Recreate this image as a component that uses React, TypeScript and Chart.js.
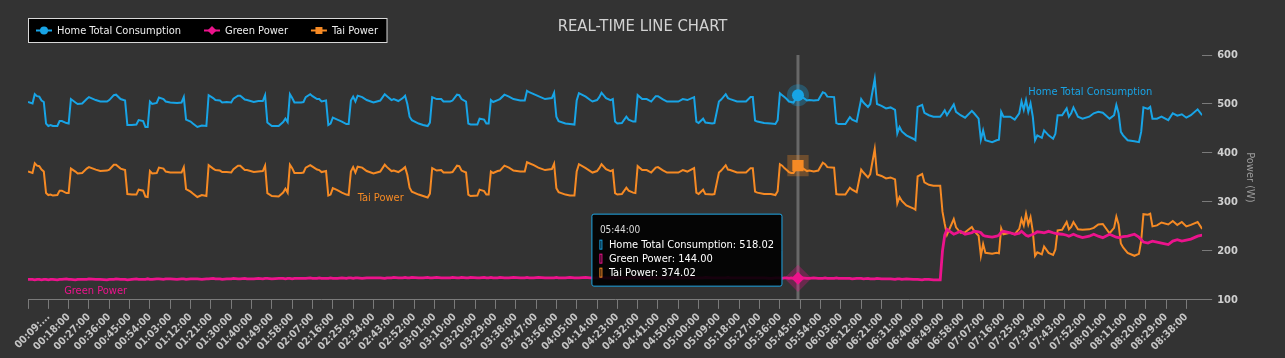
import React, { useEffect, useRef } from "react";
import { Chart, registerables, Tooltip } from "chart.js";

Chart.register(...registerables);

const FONT = "'DejaVu Sans Condensed', 'DejaVu Sans', sans-serif";

const chartTitle = "REAL-TIME LINE CHART";
const yAxisTitle = "Power (W)";
const seriesNames = ["Home Total Consumption", "Green Power", "Tai Power"];
const seriesColors = ["#18a4e6", "#ec138c", "#f68a24"];
const seriesHalo = ["rgba(24,164,230,0.3)", "rgba(236,19,140,0.3)", "rgba(246,138,36,0.3)"];
const seriesMarkers = ["circle", "rectRot", "rect"];
const seriesLineWidths = [2, 2.8, 2];

// tick labels on the time axis (one every 9 samples)
const xTickLabels = [
  "", "00:09:...", "00:18:00", "00:27:00", "00:36:00", "00:45:00", "00:54:00", "01:03:00", "01:12:00", "01:21:00",
  "01:30:00", "01:40:00", "01:49:00", "01:58:00", "02:07:00", "02:16:00", "02:25:00", "02:34:00", "02:43:00", "02:52:00",
  "03:01:00", "03:10:00", "03:20:00", "03:29:00", "03:38:00", "03:47:00", "03:56:00", "04:05:00", "04:14:00", "04:23:00",
  "04:32:00", "04:41:00", "04:50:00", "05:00:00", "05:09:00", "05:18:00", "05:27:00", "05:36:00", "05:45:00", "05:54:00",
  "06:03:00", "06:12:00", "06:21:00", "06:31:00", "06:40:00", "06:49:00", "06:58:00", "07:07:00", "07:16:00", "07:25:00",
  "07:34:00", "07:43:00", "07:52:00", "08:01:00", "08:11:00", "08:20:00", "08:29:00", "08:38:00",
];
const tickStep = 9;
const lastSample = 520;

// sample index (≈ minutes since start) of each reading
const sampleIndex = [
  0, 2, 3, 4, 5, 6, 7, 8, 9, 10,
  11, 13, 14, 15, 17, 18, 19, 21, 22, 24,
  26, 27, 30, 32, 35, 36, 38, 39, 41, 43,
  44, 46, 48, 49, 51, 52, 53, 54, 55, 57,
  58, 60, 61, 63, 66, 68, 69, 70, 72, 73,
  75, 77, 79, 80, 82, 83, 85, 86, 88, 90,
  91, 93, 94, 96, 97, 100, 102, 104, 105, 106,
  108, 111, 113, 114, 115, 116, 117, 118, 121, 122,
  123, 125, 126, 128, 129, 130, 132, 133, 134, 135,
  137, 139, 141, 142, 143, 144, 145, 146, 148, 150,
  153, 156, 158, 159, 161, 162, 164, 166, 167, 168,
  169, 170, 173, 175, 177, 178, 179, 181, 183, 184,
  187, 188, 190, 191, 192, 194, 195, 196, 199, 200,
  202, 203, 204, 205, 206, 208, 209, 211, 213, 215,
  218, 220, 221, 222, 224, 226, 229, 232, 233, 234,
  235, 238, 240, 242, 243, 244, 247, 249, 250, 252,
  253, 254, 256, 258, 259, 260, 261, 263, 265, 266,
  268, 269, 270, 272, 274, 276, 278, 279, 281, 283,
  288, 290, 292, 295, 296, 297, 299, 300, 303, 304,
  306, 307, 309, 310, 311, 314, 318, 320, 321, 322,
  323, 326, 329, 331, 332, 333, 334, 335, 336, 337,
  338, 339, 341, 343, 345, 346, 348, 350, 352, 353,
  354, 357, 358, 359, 362, 364, 365, 367, 369, 370,
  372, 373, 375, 376, 378, 380, 382, 384, 385, 386,
  387, 389, 392, 393, 394, 396, 397, 399, 401, 404,
  405, 406, 407, 410, 411, 413, 415, 418, 419, 421,
  422, 423, 424, 427, 429, 430, 431, 432, 435, 437,
  439, 440, 441, 442, 443, 444, 445, 446, 447, 449,
  450, 452, 454, 455, 456, 458, 460, 461, 462, 463,
  465, 467, 470, 472, 474, 476, 479, 481, 482, 483,
  484, 485, 487, 490, 492, 493, 494, 496, 497, 498,
  500, 502, 505, 507, 509, 511, 513, 515, 518, 520,
];

const homeTotal = [
  504, 501, 520, 516, 515, 507, 504, 460, 455, 457,
  455, 455, 465, 465, 461, 460, 510, 503, 500, 501,
  510, 514, 508, 505, 505, 508, 518, 519, 510, 507,
  457, 457, 458, 467, 465, 453, 453, 505, 500, 502,
  513, 510, 505, 503, 502, 503, 514, 468, 464, 460,
  453, 456, 455, 518, 512, 508, 507, 503, 504, 503,
  511, 517, 517, 509, 508, 504, 506, 506, 518, 462,
  455, 455, 463, 470, 463, 520, 512, 503, 503, 504,
  514, 520, 516, 510, 510, 505, 507, 457, 460, 472,
  468, 464, 459, 459, 507, 515, 505, 517, 514, 508,
  503, 507, 520, 516, 508, 510, 506, 512, 517, 500,
  474, 467, 460, 457, 455, 462, 514, 510, 510, 505,
  505, 507, 519, 518, 510, 505, 460, 458, 458, 470,
  468, 460, 460, 508, 504, 508, 510, 519, 515, 510,
  507, 507, 527, 524, 520, 516, 510, 512, 523, 474,
  465, 460, 459, 458, 507, 522, 515, 508, 505, 508,
  514, 523, 512, 508, 510, 464, 460, 461, 474, 468,
  464, 464, 518, 510, 510, 505, 516, 516, 510, 505,
  505, 510, 508, 514, 464, 461, 470, 462, 460, 461,
  505, 509, 520, 512, 510, 505, 505, 514, 514, 466,
  464, 461, 460, 459, 467, 522, 518, 514, 510, 505,
  504, 503, 518.02, 514, 507, 508, 507, 508, 524, 522,
  515, 514, 461, 459, 459, 473, 468, 464, 510, 503,
  494, 500, 551, 500, 496, 491, 493, 488, 440, 453,
  444, 436, 429, 426, 494, 498, 482, 477, 474, 474,
  480, 487, 477, 499, 484, 477, 472, 486, 481, 470,
  427, 446, 426, 422, 426, 427, 484, 474, 474, 468,
  481, 505, 488, 508, 484, 501, 474, 426, 436, 431,
  446, 436, 429, 439, 477, 477, 491, 474, 481, 493,
  474, 470, 474, 481, 484, 482, 470, 477, 498, 481,
  443, 436, 426, 424, 422, 443, 493, 490, 494, 470,
  470, 474, 467, 481, 476, 479, 472, 477, 489, 477,
];

const greenPower = [
  142, 142, 141, 142, 142, 141, 142, 142, 141, 142,
  142, 141, 142, 142, 143, 142, 142, 141, 142, 142,
  142, 143, 142, 142, 141, 142, 142, 143, 142, 142,
  141, 142, 143, 142, 142, 142, 143, 142, 142, 143,
  143, 142, 143, 143, 142, 143, 143, 142, 143, 143,
  143, 142, 143, 143, 144, 143, 143, 142, 143, 143,
  144, 143, 143, 144, 143, 143, 144, 143, 144, 144,
  143, 144, 144, 143, 144, 144, 143, 144, 144, 144,
  144, 145, 144, 144, 145, 144, 144, 144, 145, 144,
  144, 145, 144, 145, 145, 144, 145, 145, 144, 145,
  145, 145, 144, 145, 145, 146, 145, 145, 146, 145,
  145, 146, 145, 145, 146, 145, 145, 146, 145, 145,
  145, 146, 145, 145, 146, 145, 145, 146, 145, 145,
  146, 145, 145, 146, 145, 145, 146, 145, 145, 146,
  145, 145, 146, 145, 145, 146, 145, 145, 145, 146,
  145, 145, 146, 145, 145, 145, 146, 145, 145, 145,
  145, 146, 145, 145, 145, 146, 145, 145, 145, 145,
  145, 146, 145, 145, 145, 145, 146, 145, 145, 145,
  145, 145, 146, 145, 145, 145, 145, 146, 145, 145,
  145, 145, 145, 146, 145, 145, 145, 145, 145, 145,
  145, 145, 144, 145, 145, 145, 144, 145, 145, 144,
  145, 144, 144, 145, 144, 144, 145, 144, 144, 145,
  144, 144, 145, 144, 144, 144, 143, 144, 144, 143,
  144, 143, 143, 144, 143, 143, 143, 142, 143, 143,
  142, 143, 142, 142, 142, 141, 142, 142, 141, 141,
  200, 232, 244, 234, 236, 240, 234, 237, 240, 239,
  237, 232, 230, 228, 230, 232, 238, 240, 237, 234,
  236, 240, 236, 232, 230, 232, 234, 236, 239, 238,
  237, 240, 237, 236, 235, 234, 232, 230, 232, 234,
  230, 227, 230, 234, 230, 227, 234, 230, 228, 227,
  228, 229, 230, 234, 228, 223, 218, 216, 218, 220,
  218, 216, 213, 220, 223, 220, 222, 224, 230, 232,
];

const taiPower = [
  362, 359, 379, 374, 373, 366, 362, 318, 314, 315,
  313, 314, 323, 323, 318, 318, 368, 362, 358, 359,
  368, 371, 366, 363, 364, 366, 376, 376, 368, 365,
  316, 315, 315, 325, 323, 311, 310, 363, 358, 359,
  370, 368, 362, 360, 360, 360, 371, 326, 321, 317,
  310, 314, 312, 375, 368, 365, 364, 361, 361, 360,
  367, 374, 374, 365, 365, 361, 362, 363, 374, 318,
  312, 311, 319, 327, 319, 376, 369, 359, 359, 360,
  370, 375, 372, 366, 365, 361, 363, 313, 315, 328,
  324, 319, 315, 314, 362, 371, 360, 372, 370, 363,
  358, 362, 376, 371, 363, 364, 361, 367, 371, 355,
  329, 321, 315, 312, 309, 317, 369, 364, 365, 360,
  360, 361, 374, 373, 364, 360, 315, 312, 313, 325,
  322, 315, 315, 362, 359, 363, 364, 374, 370, 364,
  362, 362, 381, 379, 375, 370, 365, 367, 378, 328,
  320, 315, 313, 313, 362, 377, 369, 363, 360, 363,
  369, 377, 367, 363, 365, 318, 315, 316, 329, 323,
  319, 318, 373, 365, 365, 360, 370, 371, 365, 360,
  360, 365, 362, 369, 319, 316, 325, 316, 315, 316,
  360, 364, 375, 366, 365, 360, 360, 369, 369, 321,
  319, 316, 316, 314, 322, 377, 374, 369, 365, 361,
  359, 359, 374.02, 369, 363, 364, 362, 364, 380, 377,
  371, 370, 316, 315, 315, 329, 325, 320, 366, 360,
  350, 357, 408, 356, 353, 348, 350, 346, 297, 310,
  302, 293, 287, 284, 352, 357, 340, 335, 333, 333,
  280, 255, 233, 265, 248, 237, 238, 249, 241, 231,
  190, 214, 196, 194, 196, 195, 246, 234, 237, 234,
  245, 265, 252, 276, 254, 269, 240, 190, 197, 193,
  209, 196, 192, 203, 242, 243, 259, 244, 249, 259,
  244, 243, 244, 247, 254, 255, 236, 247, 270, 254,
  215, 207, 196, 190, 194, 220, 275, 274, 276, 250,
  252, 258, 254, 261, 253, 259, 250, 253, 259, 245,
];

// snapshot state: the sample under the cursor
const hoverSample = 341;
const hoverTime = "05:44:00";

// where the in-chart series names sit, in data units (sample index, watts)
const seriesLabelAnchors = [
  { at: 443, value: 525 },
  { at: 16, value: 117 },
  { at: 146, value: 308 },
];

(Tooltip.positioners as any).hoverAnchor = function (items: any[]) {
  if (!items.length) return false;
  const ca = this.chart.chartArea;
  return { x: items[0].element.x, y: ca.top + (ca.bottom - ca.top) * 0.797 };
};

function drawMarker(ctx: CanvasRenderingContext2D, style: string, x: number, y: number, color: string) {
  ctx.fillStyle = color;
  ctx.beginPath();
  if (style === "circle") {
    ctx.arc(x, y, 4, 0, Math.PI * 2);
  } else if (style === "rectRot") {
    ctx.moveTo(x, y - 4.5);
    ctx.lineTo(x + 4.5, y);
    ctx.lineTo(x, y + 4.5);
    ctx.lineTo(x - 4.5, y);
    ctx.closePath();
  } else {
    ctx.rect(x - 3.5, y - 3.5, 7, 7);
  }
  ctx.fill();
}

const chromePlugin = {
  id: "chrome",
  beforeDraw(chart: any) {
    const ctx = chart.ctx;
    ctx.save();
    ctx.fillStyle = "#333333";
    ctx.fillRect(0, 0, chart.width, chart.height);
    ctx.restore();
  },
  beforeDatasetsDraw(chart: any) {
    const act = chart.tooltip && chart.tooltip.getActiveElements();
    if (!act || !act.length) return;
    const ctx = chart.ctx;
    const x = act[0].element.x;
    const { top, bottom } = chart.chartArea;
    ctx.save();
    ctx.strokeStyle = "rgba(140,140,140,0.6)";
    ctx.lineWidth = 3;
    ctx.beginPath();
    ctx.moveTo(x, top);
    ctx.lineTo(x, bottom);
    ctx.stroke();
    ctx.restore();
  },
  afterDatasetsDraw(chart: any) {
    const ctx = chart.ctx;
    const xs = chart.scales.x;
    const ys = chart.scales.y;
    ctx.save();
    ctx.font = `11px ${FONT}`;
    ctx.textAlign = "left";
    ctx.textBaseline = "middle";
    seriesLabelAnchors.forEach((a, i) => {
      ctx.fillStyle = seriesColors[i];
      ctx.fillText(seriesNames[i], xs.getPixelForValue(a.at), ys.getPixelForValue(a.value));
    });
    ctx.restore();
  },
  afterDraw(chart: any) {
    const ctx = chart.ctx;
    ctx.save();
    // title
    ctx.font = `16.5px ${FONT}`;
    ctx.fillStyle = "#d2d2d2";
    ctx.textAlign = "center";
    ctx.textBaseline = "middle";
    ctx.fillText(chartTitle, chart.width / 2, 27);
    // legend
    ctx.font = `11px ${FONT}`;
    const left = 28.5;
    const top = 18.5;
    const cy = 30.5;
    let x = 36;
    const items: { x: number; w: number }[] = [];
    seriesNames.forEach((n) => {
      const w = ctx.measureText(n).width;
      items.push({ x, w });
      x += 21 + w + 23;
    });
    const right = x - 23 + 9;
    ctx.fillStyle = "#000";
    ctx.fillRect(left, top, right - left, 24);
    ctx.strokeStyle = "#d8d8d8";
    ctx.lineWidth = 1;
    ctx.strokeRect(left, top, right - left, 24);
    ctx.textAlign = "left";
    items.forEach((it, i) => {
      ctx.strokeStyle = seriesColors[i];
      ctx.lineWidth = 2;
      ctx.beginPath();
      ctx.moveTo(it.x, cy);
      ctx.lineTo(it.x + 16, cy);
      ctx.stroke();
      drawMarker(ctx, seriesMarkers[i], it.x + 8, cy, seriesColors[i]);
      ctx.fillStyle = "#eeeeee";
      ctx.fillText(seriesNames[i], it.x + 21, cy + 0.5);
    });
    ctx.restore();
  },
};

export default function App() {
  const canvasRef = useRef<HTMLCanvasElement | null>(null);

  useEffect(() => {
    document.body.style.margin = "0";
    document.body.style.background = "#333333";
    const canvas = canvasRef.current;
    if (!canvas) return;

    const seriesValues = [homeTotal, greenPower, taiPower];
    const datasets = seriesValues.map((vals, i) => ({
      label: seriesNames[i],
      data: sampleIndex.map((s, k) => ({ x: s, y: vals[k] })),
      borderColor: seriesColors[i],
      backgroundColor: seriesColors[i],
      borderWidth: seriesLineWidths[i],
      pointRadius: 0,
      pointStyle: seriesMarkers[i] as any,
      pointHoverRadius: i === 2 ? 8 : i === 1 ? 6.5 : 6,
      pointHoverBorderWidth: 10,
      pointHoverBackgroundColor: seriesColors[i],
      pointHoverBorderColor: seriesHalo[i],
      tension: 0,
      fill: false,
    }));

    const chart = new Chart(canvas, {
      type: "line",
      data: { datasets },
      options: {
        responsive: false,
        animation: false,
        events: [],
        layout: { padding: { top: 55, left: 28, right: 23, bottom: 3 } },
        scales: {
          x: {
            type: "linear",
            min: 0,
            max: lastSample,
            afterBuildTicks: (scale: any) => {
              scale.ticks = xTickLabels.map((_, k) => ({ value: k * tickStep }));
            },
            ticks: {
              autoSkip: false,
              minRotation: 45,
              maxRotation: 45,
              color: "#c4c4c4",
              font: { family: FONT, size: 10.5, weight: "bold" },
              padding: 2,
              callback: (_v: any, index: number) => xTickLabels[index],
            },
            grid: { drawOnChartArea: false, drawTicks: true, tickLength: 9, color: "#7a7a7a" },
            border: { display: true, color: "#7a7a7a" },
          },
          y: {
            position: "right",
            min: 100,
            max: 600,
            ticks: {
              stepSize: 100,
              color: "#cfcfcf",
              font: { family: FONT, size: 11, weight: "bold" },
              padding: 5,
            },
            grid: { drawOnChartArea: false, drawTicks: true, tickLength: 10, color: "#7a7a7a" },
            border: { display: false },
            title: {
              display: true,
              text: yAxisTitle,
              color: "#9a9a9a",
              font: { family: FONT, size: 11 },
              padding: { top: 6, bottom: 0 },
            },
          },
        },
        plugins: {
          legend: { display: false },
          title: { display: false },
          tooltip: {
            enabled: true,
            position: "hoverAnchor" as any,
            xAlign: "right",
            yAlign: "center",
            caretSize: 0,
            caretPadding: 16,
            backgroundColor: "rgba(0,0,0,0.9)",
            borderColor: "#1fa6e4",
            borderWidth: 1,
            cornerRadius: 2,
            padding: { top: 11, bottom: 8, left: 8, right: 8 },
            titleColor: "#dddddd",
            titleFont: { family: FONT, size: 10, weight: "normal", lineHeight: 1 },
            titleMarginBottom: 4,
            bodyColor: "#ffffff",
            bodyFont: { family: FONT, size: 11, lineHeight: 1 },
            bodySpacing: 3,
            boxWidth: 2,
            boxHeight: 9,
            boxPadding: 5,
            multiKeyBackground: "rgba(0,0,0,0)",
            displayColors: true,
            callbacks: {
              title: () => hoverTime,
              label: (item: any) => `${item.dataset.label}: ${Number(item.parsed.y).toFixed(2)}`,
              labelColor: (item: any) => ({
                borderColor: seriesColors[item.datasetIndex],
                backgroundColor: seriesColors[item.datasetIndex],
                borderWidth: 1,
              }),
            },
          },
        },
      },
      plugins: [chromePlugin],
    });

    const k = sampleIndex.indexOf(hoverSample);
    const active = [0, 1, 2].map((d) => ({ datasetIndex: d, index: k }));
    chart.setActiveElements(active);
    chart.tooltip!.setActiveElements(active, { x: 0, y: 0 });
    chart.update();

    return () => chart.destroy();
  }, []);

  return (
    <div style={{ width: 1285, height: 358, background: "#333333" }}>
      <canvas ref={canvasRef} width={1285} height={358} style={{ display: "block" }} />
    </div>
  );
}
